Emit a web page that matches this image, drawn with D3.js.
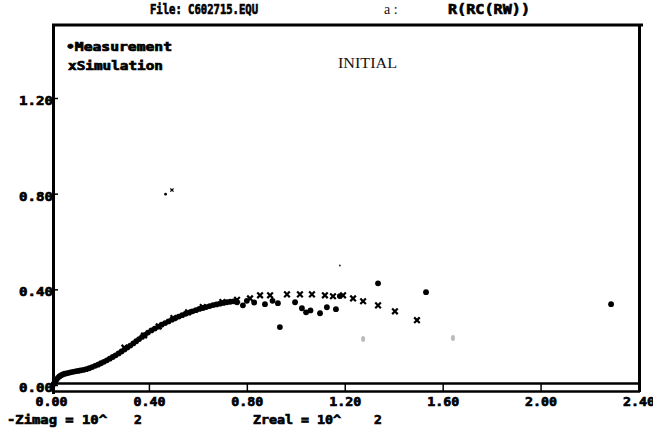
<!DOCTYPE html>
<html>
<head>
<meta charset="utf-8">
<script src="https://cdn.jsdelivr.net/npm/d3@7"></script>
<style>
  html, body { margin: 0; padding: 0; background: #fff; }
  svg { display: block; }
  .bold { font-family: "DejaVu Sans Mono", monospace; font-weight: bold; fill: #000; stroke: #000; stroke-width: 0.7px; }
  .serif { font-family: "Liberation Serif", serif; fill: #111; }
</style>
</head>
<body>
<svg id="chart" width="653" height="438"></svg>
<script>
// Impedance plot: -Zimag vs Zreal (units of 10^2)
const xTicks = [0.00, 0.40, 0.80, 1.20, 1.60, 2.00, 2.40];
const yTicks = [0.00, 0.40, 0.80, 1.20];
const xTickLabels = ["0.00", "0.40", "0.80", "1.20", "1.60", "2.00", "2.40"];
const yTickLabels = ["0.00", "0.40", "0.80", "1.20"];

// Measured points [Zreal, -Zimag]
const measurement = [
  [0.010,0.004],[0.016,0.012],[0.022,0.022],[0.028,0.030],[0.034,0.036],
  [0.040,0.040],[0.048,0.044],[0.056,0.047],[0.064,0.049],[0.072,0.051],
  [0.080,0.053],[0.090,0.055],[0.100,0.057],[0.110,0.059],[0.120,0.061],
  [0.132,0.063],[0.144,0.066],[0.156,0.070],[0.168,0.075],[0.180,0.080],
  [0.192,0.085],[0.204,0.091],[0.216,0.097],[0.228,0.103],[0.240,0.110],
  [0.252,0.117],[0.264,0.124],[0.276,0.132],[0.288,0.140],[0.300,0.148],
  [0.312,0.157],[0.324,0.165],[0.336,0.174],[0.348,0.183],[0.360,0.192],
  [0.372,0.201],[0.384,0.210],[0.396,0.219],[0.410,0.228],[0.424,0.236],
  [0.438,0.244],[0.452,0.252],[0.466,0.259],[0.480,0.266],[0.494,0.273],
  [0.508,0.280],[0.522,0.286],[0.536,0.292],[0.550,0.298],[0.564,0.303],
  [0.578,0.308],[0.592,0.313],[0.606,0.318],[0.620,0.322],[0.634,0.326],
  [0.648,0.330],[0.662,0.334],[0.676,0.337],[0.690,0.340],[0.704,0.343],
  [0.718,0.346],[0.732,0.348],[0.746,0.350],[0.760,0.346],[0.784,0.333],
  [0.800,0.352],[0.830,0.345],[0.874,0.338],[0.905,0.352],[0.927,0.342],
  [0.935,0.242],[0.997,0.346],[1.025,0.321],[1.042,0.304],[1.060,0.312],
  [1.099,0.300],[1.127,0.325],[1.164,0.317],[1.180,0.372],[1.336,0.425],
  [1.532,0.388],[2.288,0.338]
];

// Simulated points [Zreal, -Zimag]
const simulation = [
  [0.300,0.156],[0.380,0.207],[0.440,0.245],[0.500,0.280],[0.560,0.304],
  [0.620,0.326],[0.700,0.347],[0.760,0.356],[0.813,0.362],[0.854,0.375],
  [0.895,0.375],[0.964,0.379],[1.017,0.379],[1.066,0.379],[1.119,0.375],
  [1.152,0.371],[1.193,0.375],[1.234,0.362],[1.275,0.350],[1.336,0.333],
  [1.405,0.308],[1.495,0.271]
];

// Small isolated points high above the arc
const strayMeasurement = [[0.468,0.798]];
const straySimulation = [[0.494,0.815]];

// Faint stray marks
const faint = [[1.275,0.192],[1.642,0.196]];
const specks = [[1.180,0.500]];

const svg = d3.select("#chart");
const x = d3.scaleLinear().domain([0, 2.4]).range([51, 638.5]);
const y = d3.scaleLinear().domain([0, 1.2]).range([385, 98]);

// Frame
svg.append("line").attr("x1", 52).attr("x2", 643).attr("y1", 25).attr("y2", 25)
  .attr("stroke", "#000").attr("stroke-width", 3);
svg.append("line").attr("x1", 639.5).attr("x2", 639.5).attr("y1", 24).attr("y2", 392)
  .attr("stroke", "#000").attr("stroke-width", 3);
svg.append("line").attr("x1", 53.5).attr("x2", 53.5).attr("y1", 24).attr("y2", 394)
  .attr("stroke", "#000").attr("stroke-width", 3);

// Double baseline with ticks between
svg.append("line").attr("x1", 53).attr("x2", 640).attr("y1", 383.5).attr("y2", 383.5)
  .attr("stroke", "#000").attr("stroke-width", 2.5);
svg.append("line").attr("x1", 53).attr("x2", 640).attr("y1", 391.5).attr("y2", 391.5)
  .attr("stroke", "#000").attr("stroke-width", 2.5);

const xAxis = d3.axisBottom(x).tickValues(xTicks).tickSize(8)
  .tickFormat((d, i) => xTickLabels[i]);
const gx = svg.append("g").attr("transform", "translate(0,383.5)").call(xAxis);
gx.select(".domain").remove();
gx.selectAll(".tick line").attr("stroke", "#000").attr("stroke-width", 1.5);
gx.selectAll(".tick text").attr("class", "bold").attr("font-size", 13)
  .attr("y", 13).attr("dy", "0.71em")
  .attr("textLength", 32).attr("lengthAdjust", "spacingAndGlyphs");

const yAxis = d3.axisLeft(y).tickValues(yTicks).tickSizeInner(-5).tickSizeOuter(0)
  .tickFormat((d, i) => yTickLabels[i]);
const gy = svg.append("g").attr("transform", "translate(53,0)").call(yAxis);
gy.select(".domain").remove();
gy.selectAll(".tick line").attr("stroke", "#000").attr("stroke-width", 1.5);
gy.selectAll(".tick text").attr("class", "bold").attr("font-size", 13)
  .attr("x", 0).attr("dy", "0.5em").attr("text-anchor", "end")
  .attr("textLength", 34).attr("lengthAdjust", "spacingAndGlyphs");

// Measurement dots
svg.append("g").selectAll("circle").data(measurement).join("circle")
  .attr("cx", d => x(d[0])).attr("cy", d => y(d[1])).attr("r", 2.9)
  .attr("fill", "#000");
svg.append("g").selectAll("circle").data(strayMeasurement).join("circle")
  .attr("cx", d => x(d[0])).attr("cy", d => y(d[1])).attr("r", 1.4)
  .attr("fill", "#000");

// Simulation crosses
function cross(size) {
  return d => {
    const cx = x(d[0]), cy = y(d[1]);
    return `M${cx - size},${cy - size}L${cx + size},${cy + size}M${cx - size},${cy + size}L${cx + size},${cy - size}`;
  };
}
svg.append("g").selectAll("path").data(simulation).join("path")
  .attr("d", cross(2.8))
  .attr("stroke", "#000").attr("stroke-width", 2.2);
svg.append("g").selectAll("path").data(straySimulation).join("path")
  .attr("d", cross(1.6))
  .attr("stroke", "#000").attr("stroke-width", 1.2);

svg.append("g").selectAll("ellipse").data(faint).join("ellipse")
  .attr("cx", d => x(d[0])).attr("cy", d => y(d[1])).attr("rx", 2).attr("ry", 3)
  .attr("fill", "#bbb");
svg.append("g").selectAll("circle").data(specks).join("circle")
  .attr("cx", d => x(d[0])).attr("cy", d => y(d[1])).attr("r", 1).attr("fill", "#333");

// Header texts
svg.append("text").attr("class", "bold").attr("x", 150).attr("y", 14)
  .attr("font-size", 14).attr("textLength", 108).attr("lengthAdjust", "spacingAndGlyphs")
  .text("File: C602715.EQU");
svg.append("text").attr("class", "serif").attr("x", 384).attr("y", 14)
  .attr("font-size", 14).text("a   :");
svg.append("text").attr("class", "bold").attr("x", 448).attr("y", 14)
  .attr("font-size", 14).attr("textLength", 82).attr("lengthAdjust", "spacingAndGlyphs")
  .text("R(RC(RW))");

// Legend
svg.append("text").attr("class", "bold").attr("x", 66).attr("y", 51)
  .attr("font-size", 12).attr("textLength", 106).attr("lengthAdjust", "spacingAndGlyphs")
  .text("•Measurement");
svg.append("text").attr("class", "bold").attr("x", 68).attr("y", 70)
  .attr("font-size", 12).attr("textLength", 95).attr("lengthAdjust", "spacingAndGlyphs")
  .text("xSimulation");

svg.append("text").attr("class", "serif").attr("x", 338).attr("y", 68)
  .attr("font-size", 14).attr("textLength", 59).attr("lengthAdjust", "spacingAndGlyphs")
  .text("INITIAL");

// Axis captions
svg.append("text").attr("class", "bold").attr("x", 7).attr("y", 424)
  .attr("font-size", 13).attr("textLength", 100).attr("lengthAdjust", "spacingAndGlyphs")
  .text("-Zimag = 10^");
svg.append("text").attr("class", "bold").attr("x", 134).attr("y", 424)
  .attr("font-size", 13).text("2");
svg.append("text").attr("class", "bold").attr("x", 253).attr("y", 424)
  .attr("font-size", 13).attr("textLength", 88).attr("lengthAdjust", "spacingAndGlyphs")
  .text("Zreal = 10^");
svg.append("text").attr("class", "bold").attr("x", 374).attr("y", 424)
  .attr("font-size", 13).text("2");
</script>
</body>
</html>
